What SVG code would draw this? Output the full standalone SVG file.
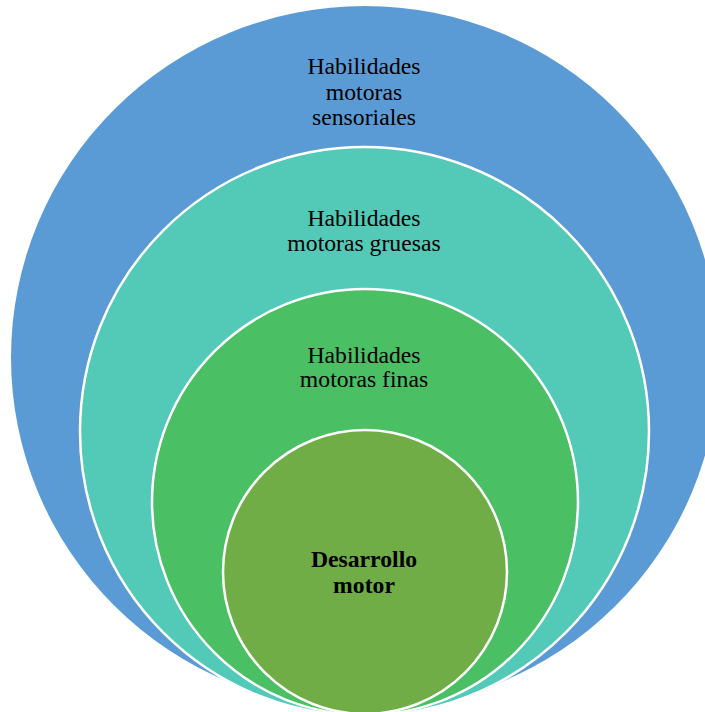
<svg xmlns="http://www.w3.org/2000/svg" width="705" height="712" viewBox="0 0 705 712">
<style>
.lbl{font-family:"Liberation Serif","Times New Roman",serif;font-size:23.7px;fill:#000;text-anchor:middle}
.b{font-weight:bold}
.ring{stroke:#fff;stroke-width:2.5}
</style>
<rect width="705" height="712" fill="#fff"/>
<g id="node-sensoriales">
<ellipse cx="365" cy="357.5" rx="354" ry="351.5" fill="#5B9BD5"/>
<text class="lbl" x="364" y="74">Habilidades</text>
<text class="lbl" x="364" y="100">motoras</text>
<text class="lbl" x="364" y="125">sensoriales</text>
</g>
<g id="node-gruesas">
<circle class="ring" cx="364.5" cy="431.5" r="284.5" fill="#53C9B7"/>
<text class="lbl" x="364" y="226">Habilidades</text>
<text class="lbl" x="364" y="251">motoras gruesas</text>
</g>
<g id="node-finas">
<circle class="ring" cx="365" cy="502" r="213" fill="#4ABF64"/>
<text class="lbl" x="364" y="363">Habilidades</text>
<text class="lbl" x="364" y="387">motoras finas</text>
</g>
<g id="node-desarrollo">
<circle class="ring" cx="365" cy="572" r="142" fill="#70AD47"/>
<text class="lbl b" x="364" y="567">Desarrollo</text>
<text class="lbl b" x="364" y="593">motor</text>
</g>
<g id="connectors"></g>
</svg>
